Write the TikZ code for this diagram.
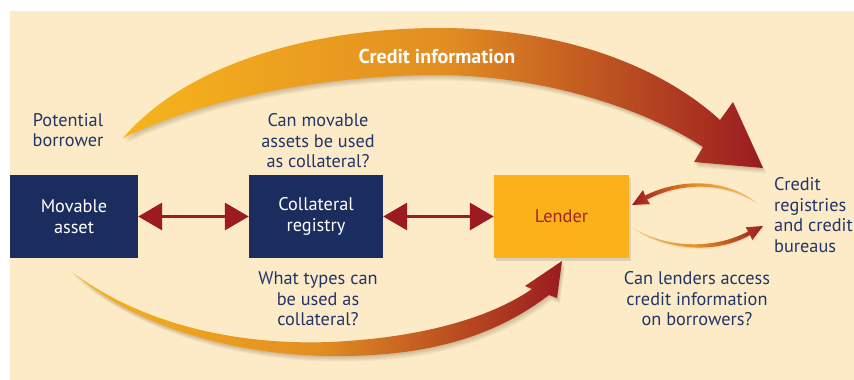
\documentclass[tikz,border=0pt]{standalone}
\usepackage{fontspec}
\setmainfont{PT Sans}
\usetikzlibrary{arrows.meta,shadows}
\definecolor{beige}{HTML}{FDEBC7}
\definecolor{navy}{HTML}{1B2D5E}
\definecolor{textblue}{HTML}{233568}
\definecolor{lenderorange}{HTML}{FBB11A}
\definecolor{arrowred}{HTML}{9B1B20}
\definecolor{lendertext}{HTML}{A3232A}
\definecolor{gold}{HTML}{F7B41C}
\definecolor{orangemid}{HTML}{E28E22}
\definecolor{paleorange}{HTML}{F6C46A}
\definecolor{shadowcol}{HTML}{5A4020}
\def\toparc{(123,138) .. controls (190,60) and (320,28) .. (440,28)
  .. controls (560,28) and (660,65) .. (720,120) -- (733,102) -- (763,168) -- (694,162) -- (703,147)
  .. controls (650,112) and (550,76) .. (440,75)
  .. controls (320,75) and (200,100) .. (123,138) -- cycle}
\def\botarc{(72,272) .. controls (150,330) and (250,345) .. (330,342)
  .. controls (420,338) and (490,318) .. (532,289) -- (525,286) -- (562,261) -- (557,298) -- (549,295)
  .. controls (490,340) and (420,357) .. (330,356)
  .. controls (240,355) and (140,330) .. (72,272) -- cycle}
\def\uparc{(757,203) .. controls (730,181) and (685,176) .. (645,195.5) -- (643,190) -- (632,205) -- (650,204) -- (647,199.5)
  .. controls (685,180) and (728,184) .. (757,203) -- cycle}
\def\lowarc{(633,228) .. controls (665,250) and (715,255) .. (750,235) -- (752.3,240) -- (763,226) -- (745.7,227.3) -- (748,231.5)
  .. controls (712,250.5) and (665,247.5) .. (633,228) -- cycle}
\tikzset{
  navybox/.style={fill=navy, text=white, minimum height=83pt, align=center, inner sep=0pt,
    font=\fontsize{18.3}{20.5}\selectfont},
  label/.style={text=textblue, align=center, inner sep=0pt, font=\fontsize{18.3}{20.5}\selectfont},
  dblarrow/.style={draw=arrowred, line width=3.3pt,
    {Triangle[length=24pt,width=27pt]}-{Triangle[length=24pt,width=27pt]}},
}
\begin{document}
\begin{tikzpicture}[x=1pt,y=-1pt]
\useasboundingbox (0,0) rectangle (854,380);
\fill[white] (0,0) rectangle (854,380);
\fill[beige] (10,11) rectangle (854,380);
% shadows of arcs
\foreach \s in {1,2,3,4,5} {
  \fill[shadowcol, opacity=0.06, shift={(0.6*\s,1.1*\s)}] \toparc;
  \fill[shadowcol, opacity=0.06, shift={(0.6*\s,1.1*\s)}] \botarc;
}
\foreach \s in {1,2} {
  \fill[shadowcol, opacity=0.05, shift={(0.5*\s,0.8*\s)}] \uparc;
  \fill[shadowcol, opacity=0.05, shift={(0.5*\s,0.8*\s)}] \lowarc;
}
% arcs
\shade[left color=gold, right color=arrowred, middle color=orangemid] \toparc;
\shade[left color=gold, right color=arrowred, middle color=orangemid] \botarc;
\shade[left color=arrowred, right color=paleorange, middle color=orangemid] \uparc;
\shade[left color=paleorange, right color=arrowred, middle color=orangemid] \lowarc;
% boxes
\node[navybox, minimum width=128pt] (asset) at (74,216.5) {Movable\\asset};
\node[navybox, minimum width=134pt] (coll) at (316,216.5) {Collateral\\registry};
\node[fill=lenderorange, text=lendertext, minimum width=135pt, minimum height=83pt, inner sep=0pt,
  font=\fontsize{18.3}{20.5}\selectfont,
  drop shadow={shadow xshift=2pt, shadow yshift=-3pt, opacity=0.25}] (lender) at (561.5,216.5) {Lender};
% connectors
\draw[dblarrow] (asset) -- (coll);
\draw[dblarrow] (coll) -- (lender);
% labels
\node[text=white, inner sep=0pt, font=\fontsize{20}{22}\selectfont\bfseries] (title) at (437,56) {Credit information};
\node[label] (borrower) at (68,130) {Potential\\borrower};
\node[label] (q1) at (318,141) {Can movable\\assets be used\\as collateral?};
\node[label] (q2) at (318,299) {What types can\\be used as\\collateral?};
\node[label] (q3) at (697,299) {Can lenders access\\credit information\\on borrowers?};
\node[label, align=left, anchor=west] (bureau) at (774,215) {Credit\\registries\\and credit\\bureaus};
\end{tikzpicture}
\end{document}
